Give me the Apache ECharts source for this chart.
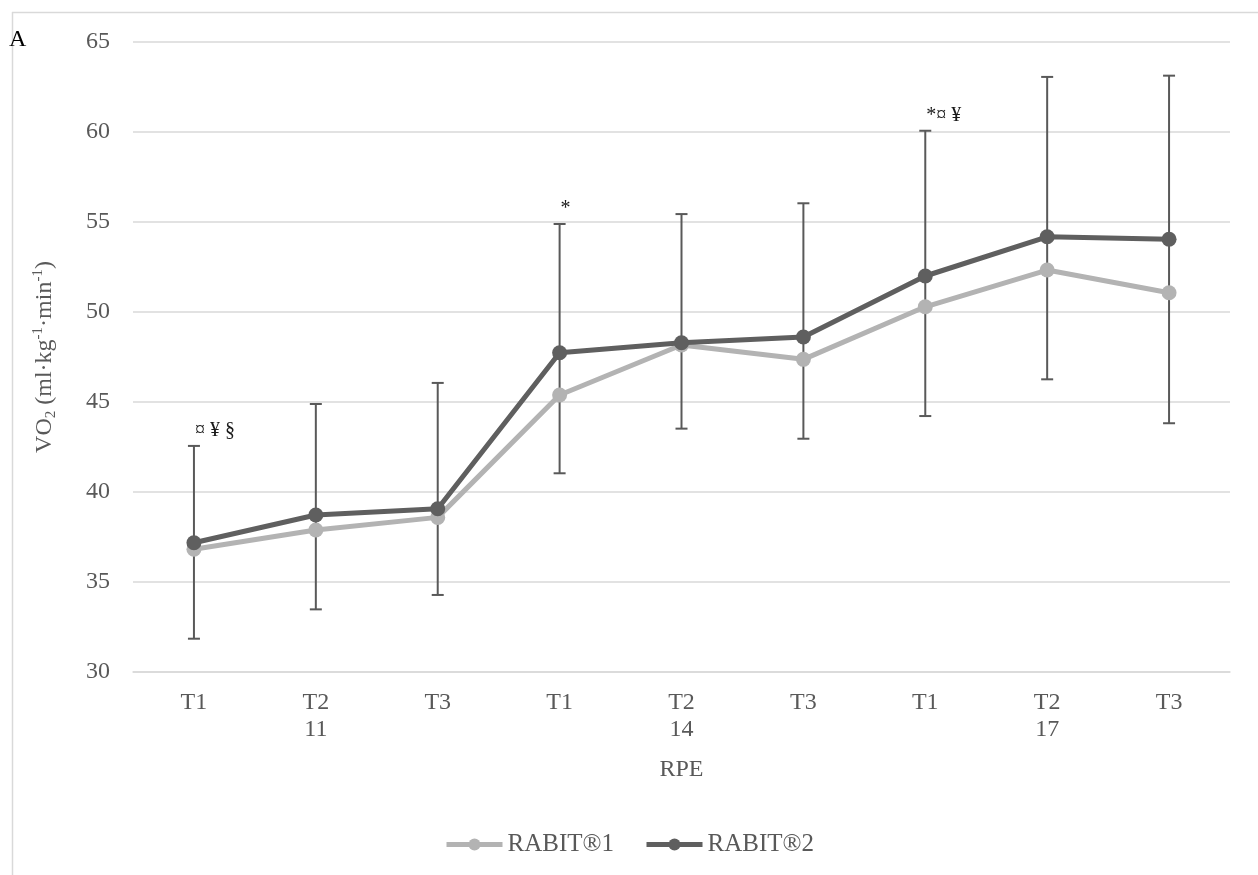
<!DOCTYPE html>
<html><head><meta charset="utf-8">
<script src="https://cdn.jsdelivr.net/npm/echarts@6/dist/echarts.min.js"></script>
<style>html,body{margin:0;padding:0;background:#fff}#c{width:1258px;height:875px}</style>
</head><body><div id="c"></div>
<script>
const categories = ['T1','T2\n11','T3','T1','T2\n14','T3','T1','T2\n17','T3'];
const rabit1 = [36.82,37.89,38.59,45.39,48.17,47.37,50.29,52.33,51.07];
const rabit2 = [37.18,38.72,39.07,47.74,48.29,48.61,52.00,54.18,54.04];
const errUpper = [42.56,44.89,46.06,54.89,55.44,56.04,60.07,63.06,63.13];
const errLower = [31.85,33.48,34.28,41.04,43.52,42.96,44.22,46.26,43.82];
const annotations = ['¤ ¥ §','','','*','','','*¤ ¥','',''];
const yMin = 30, yMax = 65, yStep = 5;

const FONT = '"Liberation Serif","Times New Roman",serif';
const TXT = '#595959';
const FS = 24;
const chart = echarts.init(document.getElementById('c'), null, {renderer:'canvas'});

const errData = categories.map((c,i)=>[i, errLower[i], errUpper[i], annotations[i]]);

chart.setOption({
  backgroundColor:'#fff',
  animation:false,
  textStyle:{fontFamily:FONT},
  graphic:[
    {type:'line', shape:{x1:12,y1:12.5,x2:1258,y2:12.5}, style:{stroke:'#d9d9d9',lineWidth:1.5}},
    {type:'line', shape:{x1:12.5,y1:12,x2:12.5,y2:875}, style:{stroke:'#d9d9d9',lineWidth:1.5}},
    {type:'text', left:9, top:28, style:{text:'A', font:'24px '+FONT, fill:'#000'}}
  ],
  grid:{left:133, right:28, top:42, bottom:203, containLabel:false},
  legend:{
    bottom:13, left:'center', itemWidth:56, itemHeight:15, itemGap:30,
    lineStyle:{width:5},
    textStyle:{fontFamily:FONT, fontSize:25, color:TXT},
    data:['RABIT®1','RABIT®2']
  },
  xAxis:{
    type:'category', data:categories, boundaryGap:true,
    axisLine:{show:true, lineStyle:{color:'#d9d9d9', width:1.5}},
    axisTick:{show:false},
    axisLabel:{fontFamily:FONT, fontSize:FS, color:TXT, margin:17, lineHeight:27, interval:0},
    name:'RPE', nameLocation:'middle', nameGap:86,
    nameTextStyle:{fontFamily:FONT, fontSize:FS, color:TXT}
  },
  yAxis:{
    type:'value', min:yMin, max:yMax, interval:yStep,
    axisLine:{show:false}, axisTick:{show:false},
    splitLine:{lineStyle:{color:'#d9d9d9', width:1.5}},
    axisLabel:{fontFamily:FONT, fontSize:FS, color:TXT, margin:23},
    name:'VO{sub|2} (ml·kg{sup|-1}·min{sup|-1})',
    nameLocation:'middle', nameGap:74, nameRotate:90,
    nameTextStyle:{fontFamily:FONT, fontSize:FS, color:TXT, lineHeight:28,
      rich:{
        sub:{fontFamily:FONT, fontSize:15, color:TXT, lineHeight:15, verticalAlign:'bottom'},
        sup:{fontFamily:FONT, fontSize:15, color:TXT, lineHeight:15, verticalAlign:'top'}
      }}
  },
  series:[
    {
      type:'custom', name:'err', z:1, silent:true,
      data:errData,
      encode:{x:0, y:[1,2]},
      renderItem:function(params, api){
        const x = api.value(0);
        const lo = api.coord([x, api.value(1)]);
        const hi = api.coord([x, api.value(2)]);
        const ann = errData[params.dataIndex][3];
        const st = {stroke:'#595959', lineWidth:2};
        const cw = 6;
        const children = [
          {type:'line', shape:{x1:hi[0],y1:hi[1],x2:lo[0],y2:lo[1]}, style:st},
          {type:'line', shape:{x1:hi[0]-cw,y1:hi[1],x2:hi[0]+cw,y2:hi[1]}, style:st},
          {type:'line', shape:{x1:lo[0]-cw,y1:lo[1],x2:lo[0]+cw,y2:lo[1]}, style:st}
        ];
        if (ann) {
          children.push({type:'text', x:hi[0]+1, y:hi[1]-15,
            style:{text:ann, font:'20px '+FONT, fill:'#1a1a1a', align:'left', verticalAlign:'middle'}});
        }
        return {type:'group', children:children};
      }
    },
    {
      type:'line', name:'RABIT®1', data:rabit1, z:2,
      symbol:'circle', symbolSize:15,
      lineStyle:{color:'#b3b3b3', width:5},
      itemStyle:{color:'#b3b3b3'}
    },
    {
      type:'line', name:'RABIT®2', data:rabit2, z:3,
      symbol:'circle', symbolSize:15,
      lineStyle:{color:'#5f5f5f', width:5},
      itemStyle:{color:'#5f5f5f'}
    }
  ]
});
</script></body></html>
